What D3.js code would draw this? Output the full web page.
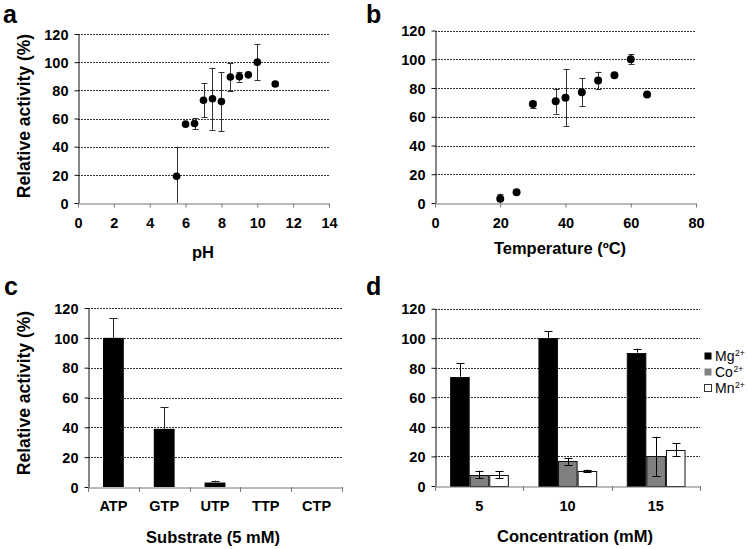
<!DOCTYPE html>
<html>
<head>
<meta charset="utf-8">
<script src="https://cdn.jsdelivr.net/npm/d3@7"></script>
<style>
  body { margin: 0; background: #fff; }
  svg { font-family: Arial, "Liberation Sans", sans-serif; }
  .tick text { font-weight: bold; font-size: 14.5px; fill: #000; }
</style>
</head>
<body>
<svg id="fig" width="750" height="549"></svg>
<script>
// --- data ---
// a: pH profile
const phX = [5.5, 6, 6.5, 7, 7.5, 8, 8.5, 9, 9.5, 10, 11];
const phY = [19, 56, 56.5, 73, 74, 72, 89.5, 89.7, 91, 100, 84.5];
const phErr = [21, 0, 4, 12, 22, 21, 10, 3.5, 0, 13, 1.5];
// b: temperature profile
const tempX = [20, 25, 30, 37, 40, 45, 50, 55, 60, 65];
const tempY = [3, 7.5, 68.8, 70.7, 73.2, 77, 85.3, 88.8, 100, 75.5];
const tempErr = [3.5, 0, 2.5, 8.5, 19.7, 9.8, 6, 0, 3.5, 0];
// c: substrates
const substrates = ["ATP", "GTP", "UTP", "TTP", "CTP"];
const substrateY = [100, 39, 3, 0, 0];
const substrateErr = [13, 14.3, 1.3, 0, 0];
// d: metal ions
const concentrations = ["5", "10", "15"];
const metals = ["Mg", "Co", "Mn"];
const metalColors = ["#000", "#808080", "#fff"];
const mgY = [74, 100.2, 90.3], mgErr = [9, 4.5, 2.7];
const coY = [7.7, 16.7, 20], coErr = [2.6, 2.4, 13.2];
const mnY = [7.7, 10.2, 24.6], mnErr = [2.5, 0.9, 4.3];

const yTicks = [0, 20, 40, 60, 80, 100, 120];

const svg = d3.select("#fig");

// common frame: y axis, dotted grid
function frame(left, right, top, bottom) {
  const y = d3.scaleLinear().domain([0, 120]).range([bottom, top]);
  const g = svg.append("g");

  g.selectAll(".grid")
    .data(yTicks.slice(1))
    .enter().append("line")
    .attr("x1", left).attr("x2", right)
    .attr("y1", d => Math.round(y(d)) + 0.5)
    .attr("y2", d => Math.round(y(d)) + 0.5)
    .attr("stroke", "#333")
    .attr("stroke-dasharray", "2,1");

  const ya = g.append("g")
    .attr("transform", `translate(${Math.round(left) + 0.5},0)`)
    .call(d3.axisLeft(y).tickValues(yTicks).tickSize(4).tickPadding(6).tickSizeOuter(0));
  ya.select(".domain").attr("stroke", "#111");
  ya.selectAll(".tick line").attr("stroke", "#111");
  ya.selectAll(".tick text").attr("dy", "0.36em");

  return { y, g };
}

function title(x, yPos, txt) {
  svg.append("text")
    .attr("x", x).attr("y", yPos)
    .attr("text-anchor", "middle")
    .attr("font-weight", "bold")
    .attr("font-size", 16.5)
    .text(txt);
}

function yTitle(cy) {
  svg.append("text")
    .attr("transform", `translate(30,${cy}) rotate(-90)`)
    .attr("text-anchor", "middle")
    .attr("font-weight", "bold")
    .attr("font-size", 17.5)
    .text("Relative activity (%)");
}

function letter(x, yPos, txt) {
  svg.append("text")
    .attr("x", x).attr("y", yPos)
    .attr("font-weight", "bold")
    .attr("font-size", 25)
    .text(txt);
}

function errBar(g, cx, v, e, y, cap, color, upperOnly) {
  if (!e) return;
  const lo = upperOnly ? v : Math.max(0, v - e), hi = v + e;
  const px = Math.round(cx) + 0.5;
  g.append("line").attr("x1", px).attr("x2", px)
    .attr("y1", y(lo)).attr("y2", y(hi)).attr("stroke", color);
  (upperOnly ? [hi] : [lo, hi]).forEach(t => {
    if (t === 0) return;
    g.append("line").attr("x1", px - cap).attr("x2", px + cap)
      .attr("y1", Math.round(y(t)) + 0.5).attr("y2", Math.round(y(t)) + 0.5)
      .attr("stroke", color);
  });
}

// scatter panel (a, b)
function scatterPanel(opts) {
  const { left, right, top, bottom, xMax, xStep, xs, ys, errs, r } = opts;
  const { y, g } = frame(left, right, top, bottom);
  const x = d3.scaleLinear().domain([0, xMax]).range([left, right]);

  const xa = g.append("g")
    .attr("transform", `translate(0,${Math.round(bottom) + 0.5})`)
    .call(d3.axisBottom(x).tickValues(d3.range(0, xMax + 1, xStep)).tickSize(4).tickPadding(10).tickSizeOuter(0));
  xa.select(".domain").attr("stroke", "#777");
  xa.selectAll(".tick line").attr("stroke", "#777");

  xs.forEach((d, i) => errBar(g, x(d), ys[i], errs[i], y, 3, "#333", false));

  g.selectAll(".dot")
    .data(xs)
    .enter().append("circle")
    .attr("cx", d => x(d))
    .attr("cy", (d, i) => y(ys[i]))
    .attr("r", r)
    .attr("fill", "#000");
}

scatterPanel({ left: 78, right: 329, top: 34, bottom: 203, xMax: 14, xStep: 2,
  xs: phX, ys: phY, errs: phErr, r: 3.8 });
scatterPanel({ left: 435, right: 696, top: 30.5, bottom: 203, xMax: 80, xStep: 20,
  xs: tempX, ys: tempY, errs: tempErr, r: 4 });

// c: substrate bars
(function () {
  const left = 88, right = 342, top = 308, bottom = 487;
  const { y, g } = frame(left, right, top, bottom);
  const x = d3.scaleBand().domain(substrates).range([left, right]).padding(0);
  const bw = x.bandwidth() * 0.41;

  substrates.forEach((s, i) => {
    if (substrateY[i] <= 0) return;
    g.append("rect")
      .attr("x", x(s) + (x.bandwidth() - bw) / 2)
      .attr("y", y(substrateY[i]))
      .attr("width", bw)
      .attr("height", y(0) - y(substrateY[i]))
      .attr("fill", "#000");
    errBar(g, x(s) + x.bandwidth() / 2, substrateY[i], substrateErr[i], y, 4, "#222", true);
  });

  const xa = g.append("g")
    .attr("transform", `translate(0,${bottom + 0.5})`)
    .call(d3.axisBottom(x).tickSize(0).tickPadding(13));
  xa.select(".domain").attr("stroke", "#777");
  g.selectAll(".bound")
    .data(substrates.map(s => x(s)).concat([right]))
    .enter().append("line")
    .attr("x1", d => Math.round(d) + 0.5).attr("x2", d => Math.round(d) + 0.5)
    .attr("y1", bottom).attr("y2", bottom + 5)
    .attr("stroke", "#777");
})();

// d: metal ion bars
(function () {
  const left = 435, right = 700, top = 308.7, bottom = 486;
  const { y, g } = frame(left, right, top, bottom);
  const x0 = d3.scaleBand().domain(concentrations).range([left, right]).padding(0);
  const x1 = d3.scaleBand().domain(metals)
    .range([x0.bandwidth() * 0.171, x0.bandwidth() * 0.836]).padding(0);
  const series = [[mgY, mgErr], [coY, coErr], [mnY, mnErr]];

  concentrations.forEach((c, ci) => {
    metals.forEach((m, mi) => {
      const v = series[mi][0][ci];
      g.append("rect")
        .attr("x", x0(c) + x1(m) + 0.5)
        .attr("y", Math.round(y(v)) + 0.5)
        .attr("width", x1.bandwidth() - 1)
        .attr("height", Math.round(y(0)) - Math.round(y(v)))
        .attr("fill", metalColors[mi])
        .attr("stroke", "#111");
    });
    metals.forEach((m, mi) => {
      errBar(g, x0(c) + x1(m) + x1.bandwidth() / 2, series[mi][0][ci], series[mi][1][ci], y, 4,
        "#000", mi === 0);
    });
  });

  const xa = g.append("g")
    .attr("transform", `translate(0,${bottom + 0.5})`)
    .call(d3.axisBottom(x0).tickSize(0).tickPadding(14));
  xa.select(".domain").attr("stroke", "#777");
  g.selectAll(".bound")
    .data(concentrations.map(c => x0(c)).concat([right]))
    .enter().append("line")
    .attr("x1", d => Math.round(d) + 0.5).attr("x2", d => Math.round(d) + 0.5)
    .attr("y1", bottom).attr("y2", bottom + 5)
    .attr("stroke", "#777");

  // legend (superscript as its own text so rows don't collide)
  const lg = svg.append("g").attr("transform", "translate(704,356)");
  metals.forEach((m, i) => {
    const row = lg.append("g").attr("transform", `translate(0,${i * 16})`);
    row.append("rect").attr("x", 0.5).attr("y", -3.5).attr("width", 7).attr("height", 7)
      .attr("fill", metalColors[i]).attr("stroke", i === 2 ? "#333" : "none");
    const t = row.append("text").attr("x", 11).attr("y", 5).attr("font-size", 14).text(m);
    const w = t.node().getComputedTextLength();
    row.append("text").attr("x", 11 + w + 0.5).attr("y", -0.5)
      .attr("font-size", 8.5).text("2+");
  });
})();

// titles and panel letters
title(203, 258, "pH");
title(560, 254, "Temperature (ºC)");
title(213, 543, "Substrate (5 mM)");
title(575, 542, "Concentration (mM)");
yTitle(116);
yTitle(393);
letter(3, 23, "a");
letter(366, 23, "b");
letter(4, 295, "c");
letter(366, 295, "d");
</script>
</body>
</html>
